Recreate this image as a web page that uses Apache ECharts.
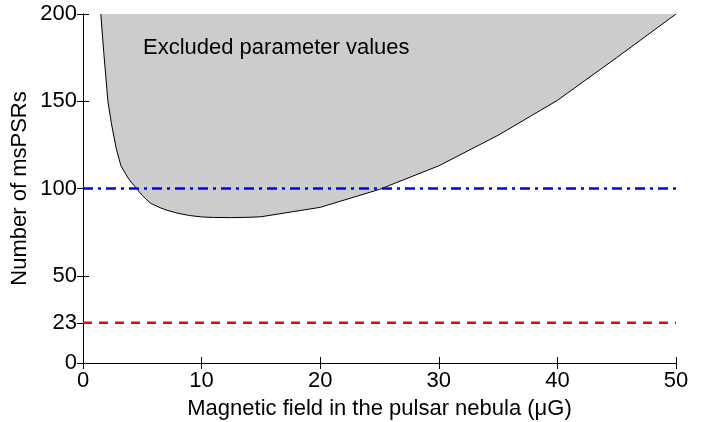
<!DOCTYPE html>
<html>
<head>
<meta charset="utf-8">
<script src="https://cdn.jsdelivr.net/npm/echarts@6/dist/echarts.min.js"></script>
<style>html,body{margin:0;padding:0;background:#fff;}#c{width:712px;height:422px;}</style>
</head>
<body>
<div id="c"></div>
<script>
// Boundary of excluded region (magnetic field in µG, number of msPSRs)
const curveX = [1.5, 1.75, 2.1, 2.4, 2.8, 3.2, 3.8, 4.5, 5.0, 5.7, 6.5, 7.0, 8.0, 9.0, 10, 11, 12.5, 14, 15, 20, 25, 30, 35, 40, 45, 50];
const curveY = [200, 178, 150, 137, 123, 113, 106, 100, 96, 91.5, 89, 87.7, 85.8, 84.5, 83.7, 83.4, 83.3, 83.5, 83.8, 89.2, 99.5, 113, 130.5, 150.5, 175, 200];
const lineXRange = [0, 50];
const blueLevel = 100;
const redLevel = 23;
const yTicks = [0, 23, 50, 100, 150, 200];
const xTicks = [0, 10, 20, 30, 40, 50];
const regionLabel = 'Excluded parameter values';
const xTitle = 'Magnetic field in the pulsar nebula (\u03bcG)';
const yTitle = 'Number of msPSRs';

const FONT = 'Liberation Sans, Arial, Helvetica, sans-serif';
const FS = 22;
const chart = echarts.init(document.getElementById('c'), null, {renderer: 'canvas'});

const axisLineStyle = {show: true, lineStyle: {color: '#000', width: 1}};
const tickStyle = {show: true, inside: true, length: 6, lineStyle: {color: '#000', width: 1}};

chart.setOption({
  animation: false,
  backgroundColor: '#fff',
  grid: {left: 83, top: 14, right: 36, bottom: 59, containLabel: false, outerBoundsMode: 'none'},
  xAxis: [
    {
      type: 'value', min: 0, max: 50, interval: 10, position: 'bottom',
      name: xTitle, nameLocation: 'middle', nameGap: 35, nameMoveOverlap: false,
      nameTextStyle: {fontFamily: FONT, fontSize: FS, color: '#000'},
      axisLine: axisLineStyle, axisTick: tickStyle,
      axisLabel: {fontFamily: FONT, fontSize: FS, color: '#000', margin: 7,
        customValues: xTicks},
      splitLine: {show: false}
    },
    {
      type: 'value', min: 0, max: 50, interval: 10, position: 'top',
      axisLine: axisLineStyle, axisTick: tickStyle,
      axisLabel: {show: false}, splitLine: {show: false}
    }
  ],
  yAxis: [
    {
      type: 'value', min: 0, max: 200, position: 'left',
      name: yTitle, nameLocation: 'middle', nameGap: 52, nameMoveOverlap: false,
      nameTextStyle: {fontFamily: FONT, fontSize: FS, color: '#000'},
      axisLine: axisLineStyle,
      axisTick: Object.assign({}, tickStyle, {customValues: yTicks}),
      axisLabel: {fontFamily: FONT, fontSize: FS, color: '#000', margin: 6, customValues: yTicks},
      splitLine: {show: false}
    },
    {
      type: 'value', min: 0, max: 200, position: 'right',
      axisLine: axisLineStyle,
      axisTick: Object.assign({}, tickStyle, {customValues: yTicks}),
      axisLabel: {show: false}, splitLine: {show: false}
    }
  ],
  graphic: [{
    type: 'text', left: 143, top: 37, z: 100,
    style: {text: regionLabel, fontFamily: FONT, fontSize: FS, fill: '#000'}
  }],
  series: [
    {
      type: 'line', xAxisIndex: 0, yAxisIndex: 0,
      data: curveX.map((x, i) => [x, curveY[i]]),
      symbol: 'none', smooth: false,
      lineStyle: {color: '#000', width: 1},
      areaStyle: {color: '#cccccc', opacity: 1, origin: 'end'},
      z: 2
    },
    {
      type: 'line', xAxisIndex: 0, yAxisIndex: 0,
      data: lineXRange.map(x => [x, blueLevel]),
      symbol: 'none',
      lineStyle: {color: '#0000ff', width: 2.5, type: [10, 5, 3, 5], cap: 'butt'},
      z: 3
    },
    {
      type: 'line', xAxisIndex: 0, yAxisIndex: 0,
      data: lineXRange.map(x => [x, redLevel]),
      symbol: 'none',
      lineStyle: {color: '#ff0000', width: 2.5, type: [9, 7], cap: 'butt'},
      z: 3
    }
  ]
});
</script>
</body>
</html>
